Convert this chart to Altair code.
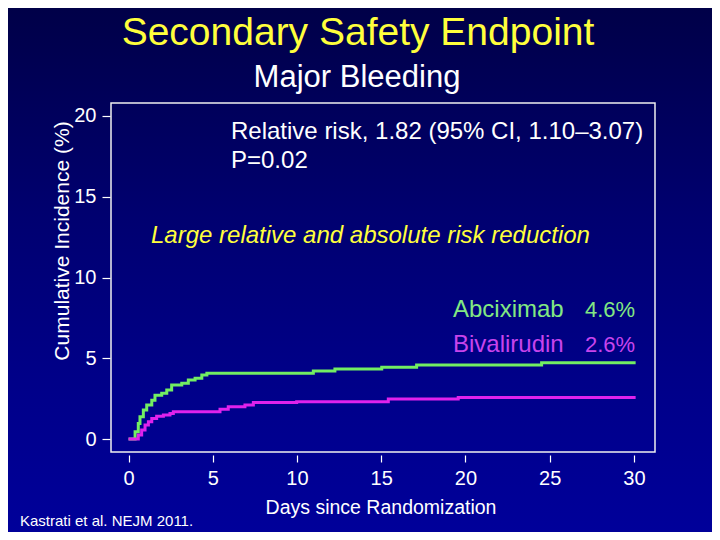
import altair as alt
import pandas as pd

# ---- data ----
abcix_days = [0, 0.39, 0.58, 0.68, 0.88, 1.08, 1.38, 1.57, 1.97, 2.27, 2.56, 3.16, 3.55, 3.95,
              4.35, 4.65, 10.97, 12.25, 15.03, 17.10, 24.52, 30.1]
abcix_pct = [0, 0.45, 0.97, 1.38, 1.80, 2.11, 2.41, 2.72, 2.83, 3.03, 3.34, 3.45, 3.65, 3.76,
             3.96, 4.07, 4.21, 4.33, 4.44, 4.58, 4.72, 4.72]
bival_days = [0, 0.58, 0.78, 0.98, 1.18, 1.38, 1.67, 2.07, 2.46, 2.66, 5.43, 5.92, 6.91, 7.41,
              9.98, 15.42, 19.57, 30.1]
bival_pct = [0, 0.25, 0.56, 0.87, 1.07, 1.28, 1.42, 1.49, 1.59, 1.69, 1.84, 2.00, 2.11, 2.27,
             2.31, 2.48, 2.58, 2.58]
arms = ["Abciximab", "Bivalirudin"]
arm_final = ["4.6%", "2.6%"]
x_ticks = [0, 5, 10, 15, 20, 25, 30]
y_ticks = [0, 5, 10, 15, 20]

title_text = "Secondary Safety Endpoint"
subtitle_text = "Major Bleeding"
rr_text = "Relative risk, 1.82 (95% CI, 1.10\u20133.07)"
p_text = "P=0.02"
msg_text = "Large relative and absolute risk reduction"
cite_text = "Kastrati et al. NEJM 2011."
x_title = "Days since Randomization"
y_title = "Cumulative Incidence (%)"

GREEN = "#72ee62"
MAGENTA = "#e022ec"
GREEN_TXT = "#82e882"
MAG_TXT = "#c844ec"
YELLOW = "#ffff3c"
FONT = "Liberation Sans"

W, H = 544, 349
PL, PT, PR, PB = 103, 95, 57, 80

df = pd.concat([
    pd.DataFrame({"day": abcix_days, "pct": abcix_pct, "arm": arms[0]}),
    pd.DataFrame({"day": bival_days, "pct": bival_pct, "arm": arms[1]}),
])
one = pd.DataFrame({"k": [0]})

bg = alt.Chart(one).mark_rect(
    fill=alt.LinearGradient(
        gradient="linear",
        stops=[alt.GradientStop(color="#000048", offset=0),
               alt.GradientStop(color="#000070", offset=0.4),
               alt.GradientStop(color="#000088", offset=0.7),
               alt.GradientStop(color="#00009a", offset=1)],
        x1=0, x2=0, y1=0, y2=1),
).encode(x=alt.value(-PL), x2=alt.value(W + PR), y=alt.value(-PT), y2=alt.value(H + PB))

frame = alt.Chart(one).mark_rect(fill=None, stroke="#f0f0f0", strokeWidth=1.5).encode(
    x=alt.value(0), x2=alt.value(W), y=alt.value(0), y2=alt.value(H))

lines = alt.Chart(df).mark_line(interpolate="step-after", strokeWidth=3).encode(
    x=alt.X("day:Q", scale=alt.Scale(domain=[-1.04, 31.25], nice=False, zero=False),
            axis=alt.Axis(values=x_ticks, title=None, offset=3, tickSize=7,
                          labelPadding=6, labelFontSize=20, zindex=2)),
    y=alt.Y("pct:Q", scale=alt.Scale(domain=[-0.8, 20.8], nice=False, zero=False),
            axis=alt.Axis(values=y_ticks, title=None, offset=1, tickSize=8,
                          labelPadding=6, labelFontSize=20, zindex=2)),
    color=alt.Color("arm:N", scale=alt.Scale(domain=arms, range=[GREEN, MAGENTA]), legend=None),
    detail="arm:N",
)


def txt(s, x, y, size, color="white", align="left", baseline="alphabetic", angle=0, style=None):
    kw = dict(text=s, font=FONT, fontSize=size, color=color, align=align, baseline=baseline)
    if angle:
        kw["angle"] = angle
    if style:
        kw["fontStyle"] = style
    return alt.Chart(one).mark_text(**kw).encode(x=alt.value(x), y=alt.value(y))


texts = [
    txt(title_text, 247, -58, 39, YELLOW, align="center"),
    txt(subtitle_text, 246, -16, 31, "white", align="center"),
    txt(rr_text, 120, 36, 24),
    txt(p_text, 120, 65, 24),
    txt(msg_text, 40, 140, 24, YELLOW, style="italic"),
    txt(arms[0], 342, 214, 24, GREEN_TXT),
    txt(arm_final[0], 474, 214, 22, GREEN_TXT),
    txt(arms[1], 342, 249, 24, MAG_TXT),
    txt(arm_final[1], 474, 249, 22, MAG_TXT),
    txt(cite_text, -91, 423, 15),
    txt(x_title, 270, 411, 19.5, align="center"),
    txt(y_title, -48, 138, 21, align="center", baseline="middle", angle=270),
]

chart = alt.layer(bg, frame, lines, *texts).properties(
    width=W, height=H,
    autosize=alt.AutoSizeParams(type="none"),
    padding={"left": PL, "top": PT, "right": PR, "bottom": PB},
    background="#000070",
).configure_view(stroke=None).configure_axis(
    domain=False, grid=False, labelColor="white", tickColor="white", tickWidth=1.2,
    labelFont=FONT,
)

chart.save("out.html", embed_options={"renderer": "svg", "actions": False})
